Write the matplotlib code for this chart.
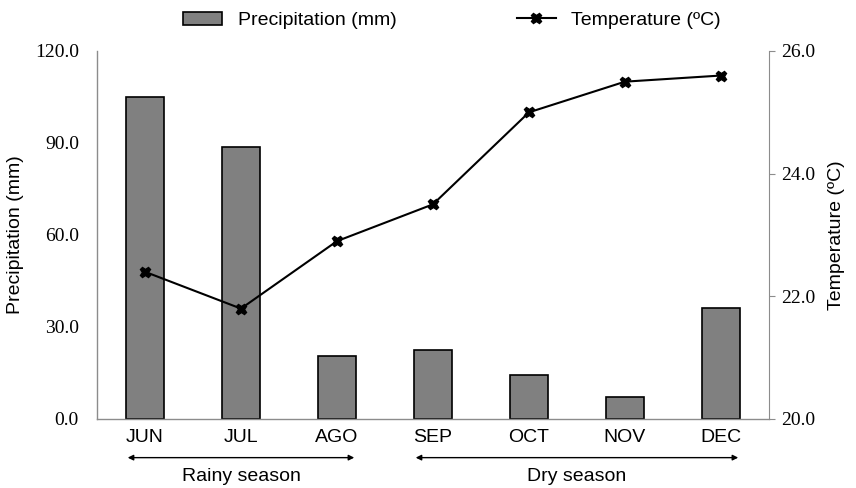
import numpy as np
import matplotlib
matplotlib.use("Agg")
import matplotlib.pyplot as plt
from matplotlib.lines import Line2D
from matplotlib.patches import Patch

# Monthly data
months = ["JUN", "JUL", "AGO", "SEP", "OCT", "NOV", "DEC"]
precip = [105.0, 88.6, 20.7, 22.4, 14.3, 7.2, 36.3]
temp = [22.4, 21.8, 22.9, 23.5, 25.0, 25.5, 25.6]

seasons = ["Rainy season", "Dry season"]
season_spans = [(0, 2), (3, 6)]

sans = "Liberation Sans"
serif = "Liberation Serif"
spine_col = "#8c8c8c"

fig = plt.figure(figsize=(8.56, 4.88), dpi=100)
ax = fig.add_axes([0.1133, 0.1414, 0.785, 0.7541])
x = np.arange(len(months))

ax.bar(x, precip, width=0.4, color="#808080", edgecolor="black", linewidth=1.2, zorder=2)
ax.set_xlim(-0.5, len(months) - 0.5)
ax.set_ylim(0, 120)
ax.set_yticks(np.arange(0, 121, 30))
ax.set_yticklabels([f"{v:.1f}" for v in np.arange(0, 121, 30)], fontfamily=serif, fontsize=14)
ax.set_xticks(x)
ax.set_xticklabels(months, fontfamily=sans, fontsize=14)
ax.tick_params(axis="y", length=0, pad=13)
ax.tick_params(axis="x", length=0, pad=7)
ax.set_ylabel("Precipitation (mm)", fontfamily=sans, fontsize=14, labelpad=8)
for s in ["top", "right"]:
    ax.spines[s].set_visible(False)
for s in ["left", "bottom"]:
    ax.spines[s].set_color(spine_col)
    ax.spines[s].set_linewidth(1.0)

ax2 = ax.twinx()
ax2.plot(x, temp, color="black", lw=1.5, marker="X", markersize=7.5, zorder=3)
ax2.set_ylim(20, 26)
ax2.set_yticks(np.arange(20, 26.1, 2))
ax2.set_yticklabels([f"{v:.1f}" for v in np.arange(20, 26.1, 2)], fontfamily=serif, fontsize=14)
ax2.tick_params(axis="y", length=4, color=spine_col, pad=5)
ax2.set_ylabel("Temperature (ºC)", fontfamily=sans, fontsize=14, labelpad=9)
for s in ["top", "left", "bottom"]:
    ax2.spines[s].set_visible(False)
ax2.spines["right"].set_color(spine_col)

# season arrows under the month labels
for name, (a, b) in zip(seasons, season_spans):
    ax.annotate("", xy=(b + 0.18, -0.105), xytext=(a - 0.18, -0.105),
                xycoords=("data", "axes fraction"),
                arrowprops=dict(arrowstyle="<|-|>", color="black", lw=1.0,
                                mutation_scale=8, shrinkA=0, shrinkB=0),
                annotation_clip=False)
    ax.text((a + b) / 2, -0.157, name, transform=ax.get_xaxis_transform(),
            ha="center", va="center", fontfamily=sans, fontsize=14)

handles = [Patch(facecolor="#808080", edgecolor="black", linewidth=1.2),
           Line2D([0], [0], color="black", lw=1.5, marker="X", markersize=7.5)]
fig.legend(handles, ["Precipitation (mm)", "Temperature (ºC)"], loc="upper center",
           bbox_to_anchor=(0.528, 1.012), ncol=2, frameon=False,
           prop={"family": sans, "size": 14}, columnspacing=6.2, handlelength=2.0)

fig.savefig("out.png", dpi=100)
